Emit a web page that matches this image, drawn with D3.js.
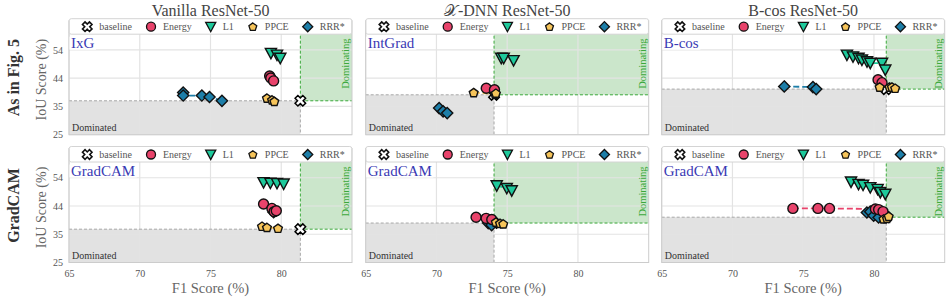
<!DOCTYPE html>
<html>
<head>
<meta charset="utf-8">
<script src="https://cdn.jsdelivr.net/npm/d3@7"></script>
<style>
  body { margin: 0; background: #fff; }
  text { font-family: "Liberation Serif", "DejaVu Serif", serif; }
</style>
</head>
<body>
<div id="chart"></div>
<script>
// ---- data ----
var colTitles = ["Vanilla ResNet-50", "\uD835\uDCB3-DNN ResNet-50", "B-cos ResNet-50"];
var rowLabels = ["As in Fig. 5", "GradCAM"];
var methodLabels = ["IxG", "IntGrad", "B-cos", "GradCAM", "GradCAM", "GradCAM"];
var seriesNames = ["baseline", "Energy", "L1", "PPCE", "RRR*"];
var xTicks = [65, 70, 75, 80];
var yTicks = [25, 25 + 29 / 3, 25 + 58 / 3, 54];

// one entry per panel (row by row), [F1, IoU]
var baselinePts = [[81.35, 36.6], [74.07, 38.65], [80.87, 40.6],
                   [81.35, 36.4], [74.07, 38.5], [80.87, 40.5]];
var energyPts = [
  [[79.18, 45.1], [79.26, 44.4], [79.46, 43.4]],
  [[73.52, 40.9], [74.1, 40.4]],
  [[80.29, 43.8], [80.57, 42.8]],
  [[78.75, 45.0], [79.34, 43.5], [79.5, 42.4], [79.65, 42.7]],
  [[72.8, 40.5], [73.51, 40.1], [73.91, 39.7]],
  [[74.27, 43.5], [76.04, 43.5], [76.86, 43.5], [80.1, 43.3], [80.33, 43.1], [80.64, 42.4]]
];
var l1Pts = [
  [[79.27, 52.9], [79.7, 52.3], [79.93, 51.2]],
  [[74.58, 51.2], [74.75, 51.2], [75.45, 50.4]],
  [[78.09, 52.3], [78.52, 51.7], [78.91, 51.2], [79.15, 50.6], [79.51, 50.0], [79.74, 49.5], [80.57, 49.5], [80.8, 47.2]],
  [[78.75, 52.4], [79.23, 52.2], [79.7, 52.1], [80.17, 51.9]],
  [[74.26, 51.3], [74.97, 50.4], [75.32, 49.6]],
  [[78.38, 52.6], [78.91, 51.8], [79.23, 51.5], [79.74, 50.7], [80.26, 50.1], [80.45, 49.0], [80.8, 48.4]]
];
var ppcePts = [
  [[78.99, 37.5], [79.35, 36.9], [79.51, 36.4]],
  [[72.63, 39.4], [74.15, 38.9], [74.2, 39.2]],
  [[80.4, 41.3], [81.1, 41.3], [81.27, 41.3], [81.5, 40.9]],
  [[78.64, 37.4], [78.99, 37.0], [79.77, 36.7]],
  [[74.2, 38.8], [74.49, 38.4], [74.72, 38.2]],
  [[80.68, 39.9], [80.92, 40.1], [81.04, 40.8]]
];
var rrrPts = [
  [[73.07, 39.4], [73.07, 38.4], [74.39, 38.4], [74.93, 37.9], [75.81, 36.6]],
  [[70.19, 34.1], [70.47, 33.0], [70.76, 32.4]],
  [[73.66, 41.5], [75.69, 41.3], [75.92, 40.6]],
  [[79.46, 42.2]],
  [[73.66, 38.5], [73.9, 37.8]],
  [[79.5, 42.1], [79.74, 42.4], [79.98, 41.0], [80.33, 40.4]]
];

// ---- layout ----
var W = 951, H = 301;
var colLeft = [69, 365.7, 661.7], pw = 283;
var rowTop = [20.7, 148.5], ph = 114;

var colors = { baseline: "#ffffff", Energy: "#e8436b", L1: "#1ec99b", PPCE: "#f6c45a", "RRR*": "#1d7ea8" };

// marker shapes (centered on 0,0)
function markerPath(name, k) {
  k = k || 1;
  var pts;
  if (name == "Energy") {
    var r = 5 * k;
    return "M" + r + ",0A" + r + "," + r + " 0 1,1 " + (-r) + ",0A" + r + "," + r + " 0 1,1 " + r + ",0Z";
  }
  if (name == "L1") {
    pts = [[-5.6, -4.8], [5.6, -4.8], [0, 5.6]];
  } else if (name == "RRR*") {
    pts = [[0, -5.6], [5.6, 0], [0, 5.6], [-5.6, 0]];
  } else if (name == "PPCE") {
    pts = d3.range(5).map(function(i) {
      var a = -Math.PI / 2 + i * 2 * Math.PI / 5;
      return [4.6 * Math.cos(a), 4.6 * Math.sin(a) + 0.4];
    });
  } else {
    // thick X
    var L = 5.2, t = 1.9;
    var plus = [[t, t], [L, t], [L, -t], [t, -t], [t, -L], [-t, -L], [-t, -t], [-L, -t], [-L, t], [-t, t], [-t, L], [t, L]];
    var c = Math.SQRT1_2;
    pts = plus.map(function(p) { return [(p[0] - p[1]) * c * 1.05, (p[0] + p[1]) * c * 1.05]; });
  }
  return "M" + pts.map(function(p) { return [p[0] * k, p[1] * k].join(","); }).join("L") + "Z";
}

var svg = d3.select("#chart").append("svg")
  .attr("width", W)
  .attr("height", H);

for (var row = 0; row < 2; row++) {
  for (var col = 0; col < 3; col++) {
    drawPanel(row, col);
  }
}

function drawPanel(row, col) {
  var i = row * 3 + col;
  var x0 = colLeft[col], y0 = rowTop[row];
  var xs = d3.scaleLinear().domain([65, 85]).range([x0, x0 + pw]);
  var ys = d3.scaleLinear().domain([25, 64]).range([y0 + ph, y0]);
  var g = svg.append("g");

  var bx = xs(baselinePts[i][0]), by = ys(baselinePts[i][1]);

  // shaded regions
  g.append("rect")
    .attr("x", x0).attr("y", by)
    .attr("width", bx - x0).attr("height", y0 + ph - by)
    .attr("fill", "#e2e2e2");
  g.append("rect")
    .attr("x", bx).attr("y", y0)
    .attr("width", x0 + pw - bx).attr("height", by - y0)
    .attr("fill", "#cbe6cb");

  // grid
  g.selectAll(".gx").data(xTicks).enter().append("line")
    .attr("x1", function(d) { return xs(d); }).attr("x2", function(d) { return xs(d); })
    .attr("y1", y0).attr("y2", y0 + ph)
    .attr("stroke", "#e3e3e3").attr("stroke-width", 1.2);
  g.selectAll(".gy").data(yTicks).enter().append("line")
    .attr("x1", x0).attr("x2", x0 + pw)
    .attr("y1", function(d) { return ys(d); }).attr("y2", function(d) { return ys(d); })
    .attr("stroke", "#e3e3e3").attr("stroke-width", 1.2);

  // region borders
  g.append("path")
    .attr("d", "M" + x0 + "," + by + "H" + bx + "V" + (y0 + ph))
    .attr("fill", "none").attr("stroke", "#a8a8a8").attr("stroke-width", 1).attr("stroke-dasharray", "3,2");
  g.append("path")
    .attr("d", "M" + bx + "," + y0 + "V" + by + "H" + (x0 + pw))
    .attr("fill", "none").attr("stroke", "#3aa83a").attr("stroke-width", 1).attr("stroke-dasharray", "3,2");

  // frame
  g.append("rect")
    .attr("x", x0).attr("y", y0).attr("width", pw).attr("height", ph)
    .attr("fill", "none").attr("stroke", "#cccccc").attr("stroke-width", 1);

  g.append("text")
    .attr("x", x0 + 3).attr("y", y0 + ph - 4)
    .attr("font-size", 10).attr("fill", "#333")
    .text("Dominated");
  g.append("text")
    .attr("transform", "translate(" + (x0 + pw - 3) + "," + (y0 + 43) + ") rotate(-90)")
    .attr("text-anchor", "middle")
    .attr("font-size", 10.5).attr("fill", "#3aa83a")
    .text("Dominating");

  // axes ticks labels
  if (row == 1) {
    var xaxis = d3.axisBottom(xs).tickValues(xTicks).tickSize(0).tickPadding(7);
    var gx = g.append("g").attr("transform", "translate(0," + (y0 + ph) + ")").call(xaxis);
    gx.select(".domain").remove();
    gx.selectAll("text").attr("font-size", 10).attr("fill", "#555")
      .style("font-family", "Liberation Serif, serif");
    g.append("text")
      .attr("x", x0 + pw / 2).attr("y", 293)
      .attr("text-anchor", "middle").attr("font-size", 14.5).attr("fill", "#666")
      .text("F1 Score (%)");
  }
  if (col == 0) {
    var yaxis = d3.axisLeft(ys).tickValues(yTicks).tickSize(0).tickPadding(6)
      .tickFormat(function(d) { return Math.round(d); });
    var gy = g.append("g").attr("transform", "translate(" + x0 + ",0)").call(yaxis);
    gy.select(".domain").remove();
    gy.selectAll("text").attr("font-size", 10).attr("fill", "#555")
      .style("font-family", "Liberation Serif, serif");
    g.append("text")
      .attr("transform", "translate(46," + (y0 + ph / 2 + 2) + ") rotate(-90)")
      .attr("text-anchor", "middle").attr("font-size", 14).attr("fill", "#666")
      .text("IoU Score (%)");
    g.append("text")
      .attr("transform", "translate(19," + (y0 + ph / 2) + ") rotate(-90)")
      .attr("text-anchor", "middle").attr("font-size", 16).attr("font-weight", "bold").attr("fill", "#333")
      .text(rowLabels[row]);
  }
  if (row == 0) {
    g.append("text")
      .attr("x", x0 + pw / 2).attr("y", 16)
      .attr("text-anchor", "middle").attr("font-size", 16).attr("fill", "#444")
      .text(colTitles[col]);
  }

  // method label with white box
  var ml = g.append("text")
    .attr("x", x0 + 2).attr("y", y0 + 27)
    .attr("font-size", 15).attr("fill", "#3a3ab4")
    .text(methodLabels[i]);
  var bb = ml.node().getBBox();
  g.insert("rect", function() { return ml.node(); })
    .attr("x", x0 + 0.5).attr("y", bb.y + 2)
    .attr("width", bb.width + 3).attr("height", bb.height - 3)
    .attr("fill", "#fff");

  // series
  var series = [
    { name: "RRR*", pts: rrrPts[i] },
    { name: "Energy", pts: energyPts[i] },
    { name: "L1", pts: l1Pts[i] },
    { name: "PPCE", pts: ppcePts[i] }
  ];
  var line = d3.line().x(function(d) { return xs(d[0]); }).y(function(d) { return ys(d[1]); });

  g.append("path")
    .attr("d", markerPath("baseline"))
    .attr("transform", "translate(" + bx + "," + by + ")")
    .attr("fill", "#fff").attr("stroke", "#000").attr("stroke-width", 1.5);

  series.forEach(function(s) {
    g.append("path")
      .datum(s.pts)
      .attr("d", line)
      .attr("fill", "none")
      .attr("stroke", colors[s.name])
      .attr("stroke-width", 1.8)
      .attr("stroke-dasharray", "6,3");
  });
  series.forEach(function(s) {
    g.selectAll(null).data(s.pts).enter().append("path")
      .attr("d", markerPath(s.name))
      .attr("transform", function(d) { return "translate(" + xs(d[0]) + "," + ys(d[1]) + ")"; })
      .attr("fill", colors[s.name])
      .attr("stroke", "#111").attr("stroke-width", 1.4);
  });

  // legend
  var lg = g.append("g");
  var box = lg.append("rect");
  var cx = 0;
  seriesNames.forEach(function(name, k) {
    if (k > 0) cx += 14;
    lg.append("path")
      .attr("d", markerPath(name, 0.9))
      .attr("transform", "translate(" + (cx + 5) + ",0)")
      .attr("fill", colors[name]).attr("stroke", "#111").attr("stroke-width", name == "baseline" ? 1.6 : 1.3);
    var t = lg.append("text")
      .attr("x", cx + 17).attr("y", 3.2)
      .attr("font-size", 10).attr("fill", "#555")
      .text(name);
    cx += 17 + t.node().getComputedTextLength();
  });
  var lw = cx + 20;
  box.attr("x", -13).attr("y", -8).attr("width", lw).attr("height", 15.5).attr("rx", 2)
    .attr("fill", "#fff").attr("stroke", "#d4d4d4").attr("stroke-width", 1);
  lg.attr("transform", "translate(" + (x0 + pw / 2 - lw / 2 + 13) + "," + (y0 + 6) + ")");
}
</script>
</body>
</html>
